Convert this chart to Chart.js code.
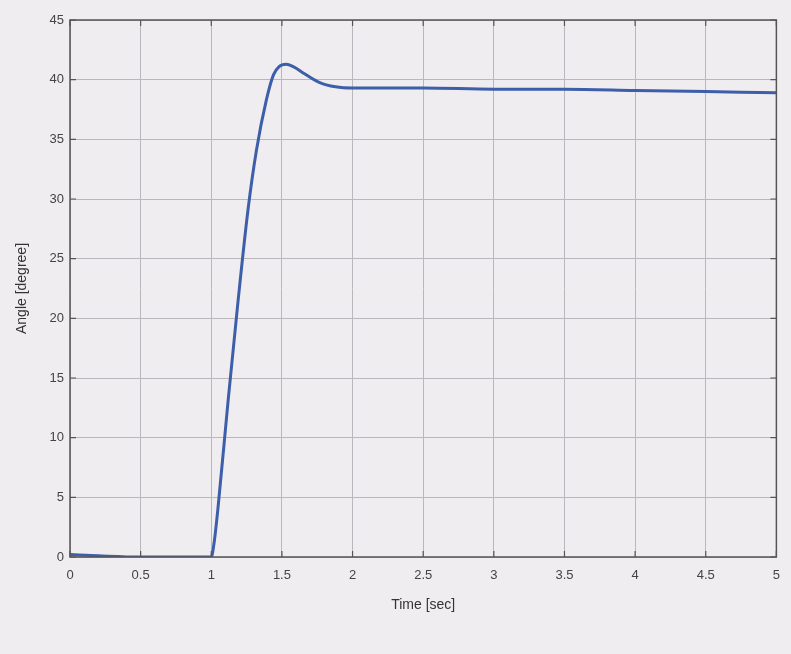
<!DOCTYPE html>
<html>
<head>
<meta charset="utf-8">
<script src="https://cdn.jsdelivr.net/npm/chart.js@4"></script>
<style>
  html, body { margin: 0; padding: 0; background: #efedf0; }
  #wrap { width: 791px; height: 654px; }
</style>
</head>
<body>
<div id="wrap"><canvas id="angleChart" width="791" height="654"></canvas></div>
<script>
// step response
const timeSec = [0, 0.2, 0.5, 0.8, 1.0, 1.02, 1.05, 1.12, 1.19, 1.26, 1.32, 1.39, 1.44, 1.48, 1.53, 1.58, 1.66, 1.76, 1.88, 2.0, 2.5, 3.0, 3.5, 4.0, 4.5, 5.0];
const angleDeg = [0.2, 0.1, 0.0, 0.0, 0.0, 1.2, 4.4, 13.2, 21.5, 29.1, 34.1, 38.3, 40.4, 41.1, 41.3, 41.1, 40.5, 39.8, 39.4, 39.3, 39.3, 39.2, 39.2, 39.1, 39.0, 38.9];
const xTicks = [0, 0.5, 1, 1.5, 2, 2.5, 3, 3.5, 4, 4.5, 5];
const yTicks = [0, 5, 10, 15, 20, 25, 30, 35, 40, 45];

const points = timeSec.map((t, i) => ({ x: t, y: angleDeg[i] }));

// box + inward ticks like matlab
const boxTicks = {
  id: "boxTicks",
  afterDraw(chart) {
    const { ctx, chartArea: a, scales } = chart;
    ctx.save();
    ctx.strokeStyle = "#555";
    ctx.lineWidth = 1.5;
    ctx.strokeRect(a.left, a.top, a.right - a.left, a.bottom - a.top);
    ctx.lineWidth = 1.2;
    xTicks.forEach((v) => {
      const px = scales.x.getPixelForValue(v);
      ctx.beginPath();
      ctx.moveTo(px, a.bottom); ctx.lineTo(px, a.bottom - 6);
      ctx.moveTo(px, a.top); ctx.lineTo(px, a.top + 6);
      ctx.stroke();
    });
    yTicks.forEach((v) => {
      const py = scales.y.getPixelForValue(v);
      ctx.beginPath();
      ctx.moveTo(a.left, py); ctx.lineTo(a.left + 6, py);
      ctx.moveTo(a.right, py); ctx.lineTo(a.right - 6, py);
      ctx.stroke();
    });
    ctx.restore();
  },
};

const ctx = document.getElementById("angleChart").getContext("2d");
const angleChart = new Chart(ctx, {
  type: "scatter",
  data: {
    datasets: [
      {
        label: "Angle",
        data: points,
        showLine: true,
        borderColor: "#3d5ea8",
        borderWidth: 3,
        pointRadius: 0,
        cubicInterpolationMode: "monotone",
      },
    ],
  },
  options: {
    responsive: false,
    animation: false,
    layout: { padding: { top: 20, right: 0, left: 10, bottom: 0 } },
    plugins: {
      legend: { display: false },
      tooltip: { enabled: false },
    },
    scales: {
      x: {
        type: "linear",
        min: 0,
        max: 5,
        afterBuildTicks: (s) => { s.ticks = xTicks.map((v) => ({ value: v })); },
        afterFit: (s) => { s.height = 97; },
        grid: { color: "#b9b7bb", lineWidth: 1, drawTicks: false },
        border: { display: false },
        ticks: {
          color: "#444",
          padding: 11,
          font: { family: "Liberation Sans", size: 13 },
          maxRotation: 0,
          callback: (v) => String(v),
        },
        title: {
          display: true,
          text: "Time [sec]",
          color: "#333",
          font: { family: "Liberation Sans", size: 14 },
          padding: { top: 0, bottom: 40 },
        },
      },
      y: {
        min: 0,
        max: 45,
        afterBuildTicks: (s) => { s.ticks = yTicks.map((v) => ({ value: v })); },
        afterFit: (s) => { s.width = 60; },
        grid: { color: "#b9b7bb", lineWidth: 1, drawTicks: false },
        border: { display: false },
        ticks: {
          color: "#444",
          padding: 6,
          font: { family: "Liberation Sans", size: 13 },
          callback: (v) => String(v),
        },
        title: {
          display: true,
          text: "Angle [degree]",
          color: "#333",
          font: { family: "Liberation Sans", size: 14 },
          padding: { bottom: 4 },
        },
      },
    },
  },
  plugins: [boxTicks],
});
</script>
</body>
</html>
